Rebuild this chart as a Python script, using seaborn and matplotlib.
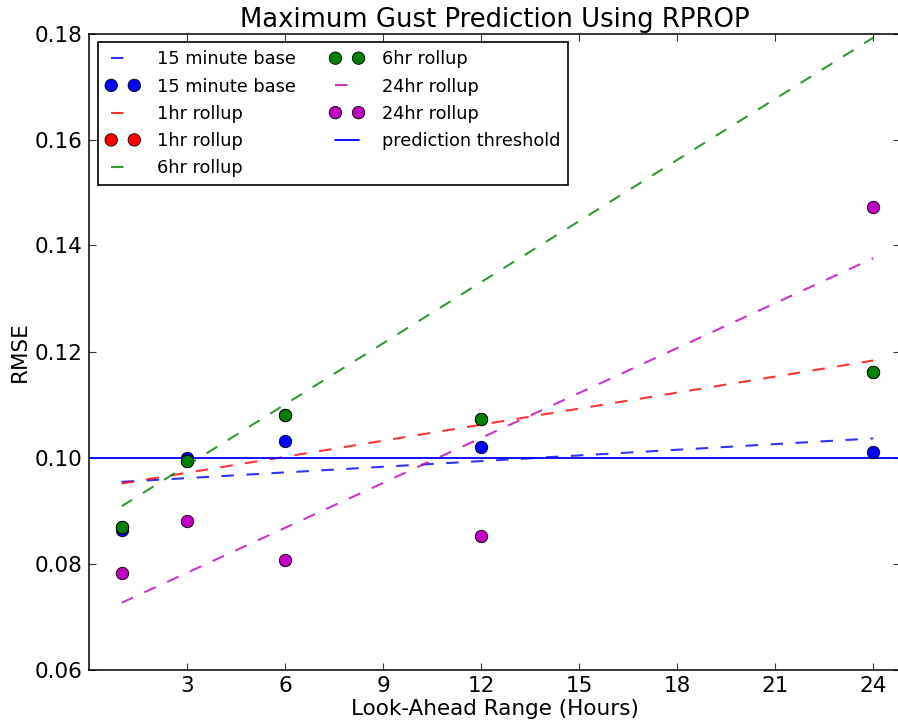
import numpy as np
import pandas as pd
import matplotlib
matplotlib.use("Agg")
import matplotlib.pyplot as plt
import seaborn as sns

# ---- data ----
hours = [1, 3, 6, 12, 24]
series_names = ["15 minute base", "1hr rollup", "6hr rollup", "24hr rollup"]
rmse_15min = [0.0864, 0.1000, 0.1032, 0.1020, 0.1010]
rmse_1hr = [0.0868, 0.0993, 0.1081, 0.1072, 0.1162]
rmse_6hr = [0.0868, 0.0993, 0.1081, 0.1072, 0.1162]
rmse_24hr = [0.0782, 0.0880, 0.0807, 0.0852, 0.1472]
trend_x = [1, 24]
trend_15min = [0.0954, 0.1036]
trend_1hr = [0.0951, 0.1183]
trend_6hr = [0.0908, 0.1792]
trend_24hr = [0.0726, 0.1376]
threshold = 0.10
x_ticks = [3, 6, 9, 12, 15, 18, 21, 24]
y_ticks = [0.06, 0.08, 0.10, 0.12, 0.14, 0.16, 0.18]

colors = ["#0000ff", "#ff0000", "#008000", "#bf00bf"]

sns.set_style("ticks")
plt.rcParams["font.family"] = ["DejaVu Sans"]
plt.rcParams["text.color"] = "black"
plt.rcParams["axes.labelcolor"] = "black"

fig = plt.figure(figsize=(8.98, 7.27), dpi=100)
W, H = 898, 727
ax = fig.add_axes([89 / W, (H - 669.5) / H, (900 - 89) / W, 636 / H])

points = [rmse_15min, rmse_1hr, rmse_6hr, rmse_24hr]
trends = [trend_15min, trend_1hr, trend_6hr, trend_24hr]

for name, col, pts, tr in zip(series_names, colors, points, trends):
    sns.lineplot(x=trend_x, y=tr, ax=ax, color=col, linestyle="--",
                 dashes=False, linewidth=1.5, alpha=0.8, label=name,
                 errorbar=None)
    ax.lines[-1].set_dashes((6, 6))
    sns.scatterplot(x=hours, y=pts, ax=ax, color=col, s=80,
                    edgecolor="black", linewidth=0.6, label=name, zorder=3)

ax.axhline(threshold, color="#0000ff", linewidth=1.3, label="prediction threshold")

ax.set_xlim(0, 24.82)
ax.set_ylim(0.06, 0.18)
ax.set_xticks(x_ticks)
ax.set_xticklabels([str(t) for t in x_ticks])
ax.set_yticks(y_ticks)
ax.set_yticklabels([f"{t:.2f}" for t in y_ticks])
ax.tick_params(direction="in", top=True, right=True, length=5, width=0.8,
               labelsize=15.5, pad=5, color="#333333", labelcolor="black")
for sp in ax.spines.values():
    sp.set_visible(True)
    sp.set_linewidth(1.1)
    sp.set_color("black")

ax.set_title("Maximum Gust Prediction Using RPROP", fontsize=18.6, pad=5,
             color="black")
ax.set_xlabel("Look-Ahead Range (Hours)", fontsize=15.5, labelpad=2)
ax.set_ylabel("RMSE", fontsize=15.5, labelpad=3)

leg = ax.legend(loc="upper left", ncol=2, numpoints=2, scatterpoints=2,
                scatteryoffsets=[0.5], fontsize=12.8, frameon=True,
                fancybox=False, edgecolor="black", framealpha=1,
                borderpad=0.45, labelspacing=0.52, handlelength=1.9,
                handletextpad=1.0, columnspacing=1.9, borderaxespad=0.5)
leg.get_frame().set_linewidth(1.2)
for t in leg.get_texts():
    t.set_color("black")

fig.savefig("out.png", dpi=100)
